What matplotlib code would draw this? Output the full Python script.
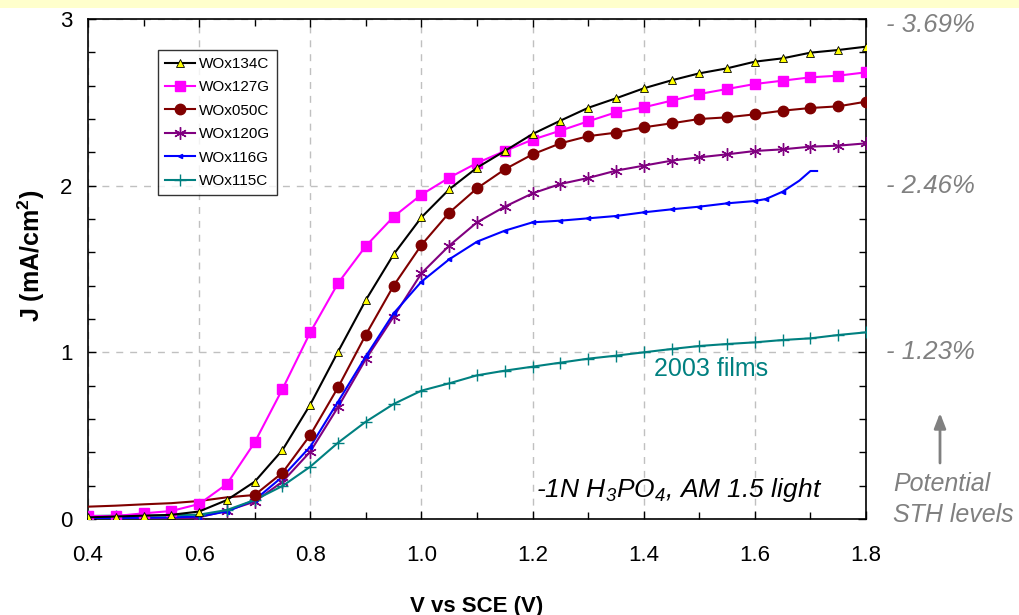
import numpy as np
import matplotlib
matplotlib.use("Agg")
import matplotlib.pyplot as plt
from matplotlib.ticker import MultipleLocator, FixedLocator

plt.rcParams['font.family'] = ['Liberation Sans', 'DejaVu Sans']
plt.rcParams['mathtext.fontset'] = 'custom'
plt.rcParams['mathtext.rm'] = 'Liberation Sans:italic'
plt.rcParams['mathtext.it'] = 'Liberation Sans:italic'
plt.rcParams['mathtext.bf'] = 'Liberation Sans:bold'
plt.rcParams['mathtext.default'] = 'rm'

# ---- data ----
v = [0.40, 0.45, 0.50, 0.55, 0.60, 0.65, 0.70, 0.75, 0.80, 0.85, 0.90, 0.95,
     1.00, 1.05, 1.10, 1.15, 1.20, 1.25, 1.30, 1.35, 1.40, 1.45, 1.50, 1.55,
     1.60, 1.65, 1.70, 1.75, 1.80]

wox134c = [0.01, 0.015, 0.02, 0.025, 0.045, 0.114, 0.224, 0.414, 0.687, 1.004,
           1.314, 1.588, 1.81, 1.978, 2.108, 2.208, 2.31, 2.39, 2.467, 2.524,
           2.584, 2.632, 2.674, 2.704, 2.744, 2.764, 2.798, 2.814, 2.834]
wox127g = [0.018, 0.018, 0.034, 0.048, 0.09, 0.21, 0.46, 0.78, 1.12, 1.415,
           1.638, 1.814, 1.946, 2.048, 2.136, 2.208, 2.276, 2.33, 2.386, 2.44,
           2.47, 2.51, 2.55, 2.58, 2.61, 2.63, 2.65, 2.66, 2.68]
wox050c = [0.074, 0.08, 0.088, 0.095, 0.108, 0.13, 0.144, 0.278, 0.504, 0.79,
           1.106, 1.40, 1.644, 1.838, 1.984, 2.098, 2.188, 2.254, 2.297, 2.318,
           2.35, 2.374, 2.40, 2.41, 2.428, 2.45, 2.466, 2.476, 2.504]
wox120g = [0.0, 0.0, 0.0, 0.0, 0.01, 0.05, 0.104, 0.224, 0.404, 0.672,
           0.96, 1.214, 1.474, 1.64, 1.78, 1.874, 1.954, 2.01, 2.046, 2.09,
           2.12, 2.15, 2.17, 2.188, 2.208, 2.218, 2.234, 2.24, 2.254]
v116 = [0.40, 0.45, 0.50, 0.55, 0.60, 0.65, 0.70, 0.75, 0.80, 0.85, 0.90, 0.95,
        1.00, 1.05, 1.10, 1.15, 1.20, 1.25, 1.30, 1.35, 1.40, 1.45, 1.50, 1.55,
        1.60, 1.62, 1.65, 1.68, 1.70, 1.712]
wox116g = [0.004, 0.006, 0.008, 0.01, 0.015, 0.045, 0.114, 0.254, 0.434, 0.704,
           0.976, 1.234, 1.424, 1.558, 1.664, 1.73, 1.78, 1.79, 1.804, 1.818,
           1.84, 1.858, 1.874, 1.894, 1.908, 1.92, 1.964, 2.03, 2.088, 2.088]
wox115c = [0.018, 0.02, 0.02, 0.022, 0.026, 0.054, 0.114, 0.198, 0.314, 0.458,
           0.584, 0.69, 0.77, 0.814, 0.862, 0.89, 0.914, 0.938, 0.962, 0.98,
           1.0, 1.02, 1.038, 1.05, 1.06, 1.074, 1.084, 1.104, 1.12]

sth_levels = ['- 3.69%', '- 2.46%', '- 1.23%']
sth_y = [2.964, 2.0, 1.0]

xticks = [0.4, 0.6, 0.8, 1.0, 1.2, 1.4, 1.6, 1.8]
yticks = [0, 1, 2, 3]

# ---- figure ----
fig = plt.figure(figsize=(10.2, 6.15), dpi=100)
fig.patches.append(plt.Rectangle((0, 1 - 8 / 615), 1, 8 / 615, transform=fig.transFigure,
                                 facecolor='#FFFFCC', edgecolor='none', zorder=-10))
ax = fig.add_axes([88 / 1020, 1 - 519 / 615, (866 - 88) / 1020, 500 / 615])

ax.plot(v, wox134c, color='black', lw=1.5, marker='^', ms=5.5, mfc='#FFFF00', mec='black',
        mew=0.6, label='WOx134C', zorder=6)
ax.plot(v, wox127g, color='#FF00FF', lw=1.5, marker='s', ms=7.5, mfc='#FF00FF', mec='#FF00FF',
        label='WOx127G', zorder=5)
ax.plot(v, wox050c, color='#800000', lw=1.5, marker='o', ms=7.5, mfc='#800000', mec='#800000',
        markevery=list(range(6, len(v))), label='WOx050C', zorder=4)
ax.plot(v, wox120g, color='#800080', lw=1.5, marker=(6, 2, 0), ms=9, mec='#800080', mew=1.0,
        label='WOx120G', zorder=3)
ax.plot(v116, wox116g, color='#0000FF', lw=1.5, marker='<', ms=3, mfc='#0000FF', mec='#0000FF',
        markevery=list(range(0, 27)), label='WOx116G', zorder=3)
ax.plot(v, wox115c, color='#008080', lw=1.5, marker='+', ms=9, mew=1.0,
        label='WOx115C', zorder=3)

ax.set_xlim(0.4, 1.8)
ax.set_ylim(0, 3)
ax.xaxis.set_major_locator(FixedLocator(xticks))
ax.xaxis.set_minor_locator(MultipleLocator(0.1))
ax.yaxis.set_major_locator(FixedLocator(yticks))
ax.yaxis.set_minor_locator(MultipleLocator(0.2))
ax.set_xticklabels([f'{t:.1f}' for t in xticks])
ax.set_yticklabels([str(t) for t in yticks])
ax.tick_params(which='both', direction='in', top=True, right=True, width=1.0, labelsize=16)
ax.tick_params(which='major', length=6)
ax.tick_params(which='minor', length=5)
ax.tick_params(axis='x', pad=19)
ax.tick_params(axis='y', pad=11)
for s in ax.spines.values():
    s.set_linewidth(1.2)

ax.grid(True, which='major', color='#C0C0C0', linestyle=(0, (5, 5)), lw=1.0)
ax.set_axisbelow(True)

ax.set_xlabel('V vs SCE (V)', fontsize=16, fontweight='bold', labelpad=21)
ax.set_ylabel('J (mA/cm$\\mathbf{^2}$)', fontsize=18, fontweight='bold')
ax.yaxis.set_label_coords(-0.053, 0.526)

leg = ax.legend(loc='upper left', bbox_to_anchor=(0.09, 0.938), borderaxespad=0,
                fontsize=11, frameon=True, fancybox=False, edgecolor='black',
                handlelength=2.0, labelspacing=0.62, handletextpad=0.2, borderpad=0.45)
leg.get_frame().set_linewidth(1.0)

ax.text(1.522, 0.9, '2003 films', color='#008080', fontsize=18, ha='center', va='center')
ax.text(1.463, 0.174, '-1N H$_3$PO$_4$, AM 1.5 light', color='black', fontsize=19,
        style='italic', ha='center', va='center')

for lab, yv in zip(sth_levels, sth_y):
    ax.text(1.8 + 20 / 555, yv, lab, color='#808080', fontsize=18.5, style='italic',
            ha='left', va='center', clip_on=False)

ax.annotate('', xy=(940 / 1020, 1 - 413 / 615), xytext=(940 / 1020, 1 - 463 / 615),
            xycoords='figure fraction',
            arrowprops=dict(arrowstyle='-|>,head_width=0.35,head_length=0.9',
                            color='#808080', lw=2.0, shrinkA=0, shrinkB=0))
fig.text(893 / 1020, 1 - 484 / 615, 'Potential', color='#808080', fontsize=18,
         style='italic', ha='left', va='center')
fig.text(893 / 1020, 1 - 515 / 615, 'STH levels', color='#808080', fontsize=18,
         style='italic', ha='left', va='center')

fig.savefig('out.png', dpi=100)
